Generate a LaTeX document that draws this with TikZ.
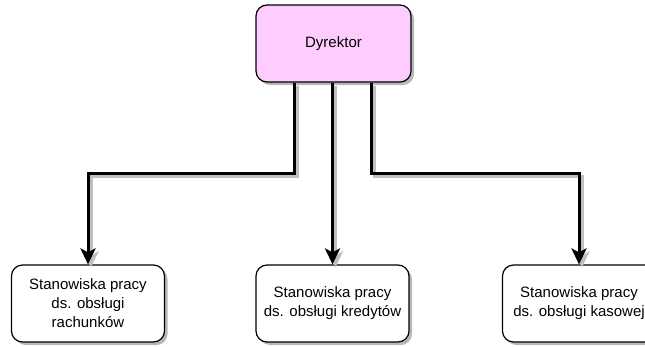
\documentclass[tikz,border=0pt]{standalone}
\usepackage{fontspec}
\setmainfont{Liberation Sans}
\usetikzlibrary{arrows.meta,shadows}
\begin{document}
\begin{tikzpicture}[x=1pt,y=-1pt,
  box/.style={draw=black, line width=1.2pt, rounded corners=11pt, fill=white,
    minimum width=153pt, minimum height=77pt, align=center, inner sep=2pt,
    font=\fontsize{15}{19}\selectfont,
    drop shadow={shadow xshift=3pt, shadow yshift=-3pt, fill=black!35, opacity=0.8}},
  topbox/.style={box, fill={rgb,255:red,255;green,204;blue,255}, minimum width=155pt},
  conn/.style={line width=3pt, -{Stealth[length=16pt,width=15pt,inset=4pt]}},
  connshadow/.style={conn, draw=black!25, color=black!25, transform canvas={shift={(3pt,-3pt)}}}
]
\useasboundingbox (0,0) rectangle (645,346);
\node[topbox] (d) at (333.5,43.5) {Dyrektor};
\node[box] (a) at (88,303.5) {Stanowiska pracy\\ds. obsługi\\rachunków};
\node[box] (b) at (332.5,303.5) {Stanowiska pracy\\ds. obsługi kredytów};
\node[box] (c) at (579,303.5) {Stanowiska pracy\\ds. obsługi kasowej};
\coordinate (s1) at ([xshift=-39.5pt]d.south);
\coordinate (s2) at ([xshift=-1pt]d.south);
\coordinate (s3) at ([xshift=37.5pt]d.south);
\foreach \st in {connshadow,conn}{
  \draw[\st] (s1) -- ++(0,91) -| (a.north);
  \draw[\st] (s2) -- (s2 |- b.north);
  \draw[\st] (s3) -- ++(0,91) -| (c.north);
}
\end{tikzpicture}
\end{document}
